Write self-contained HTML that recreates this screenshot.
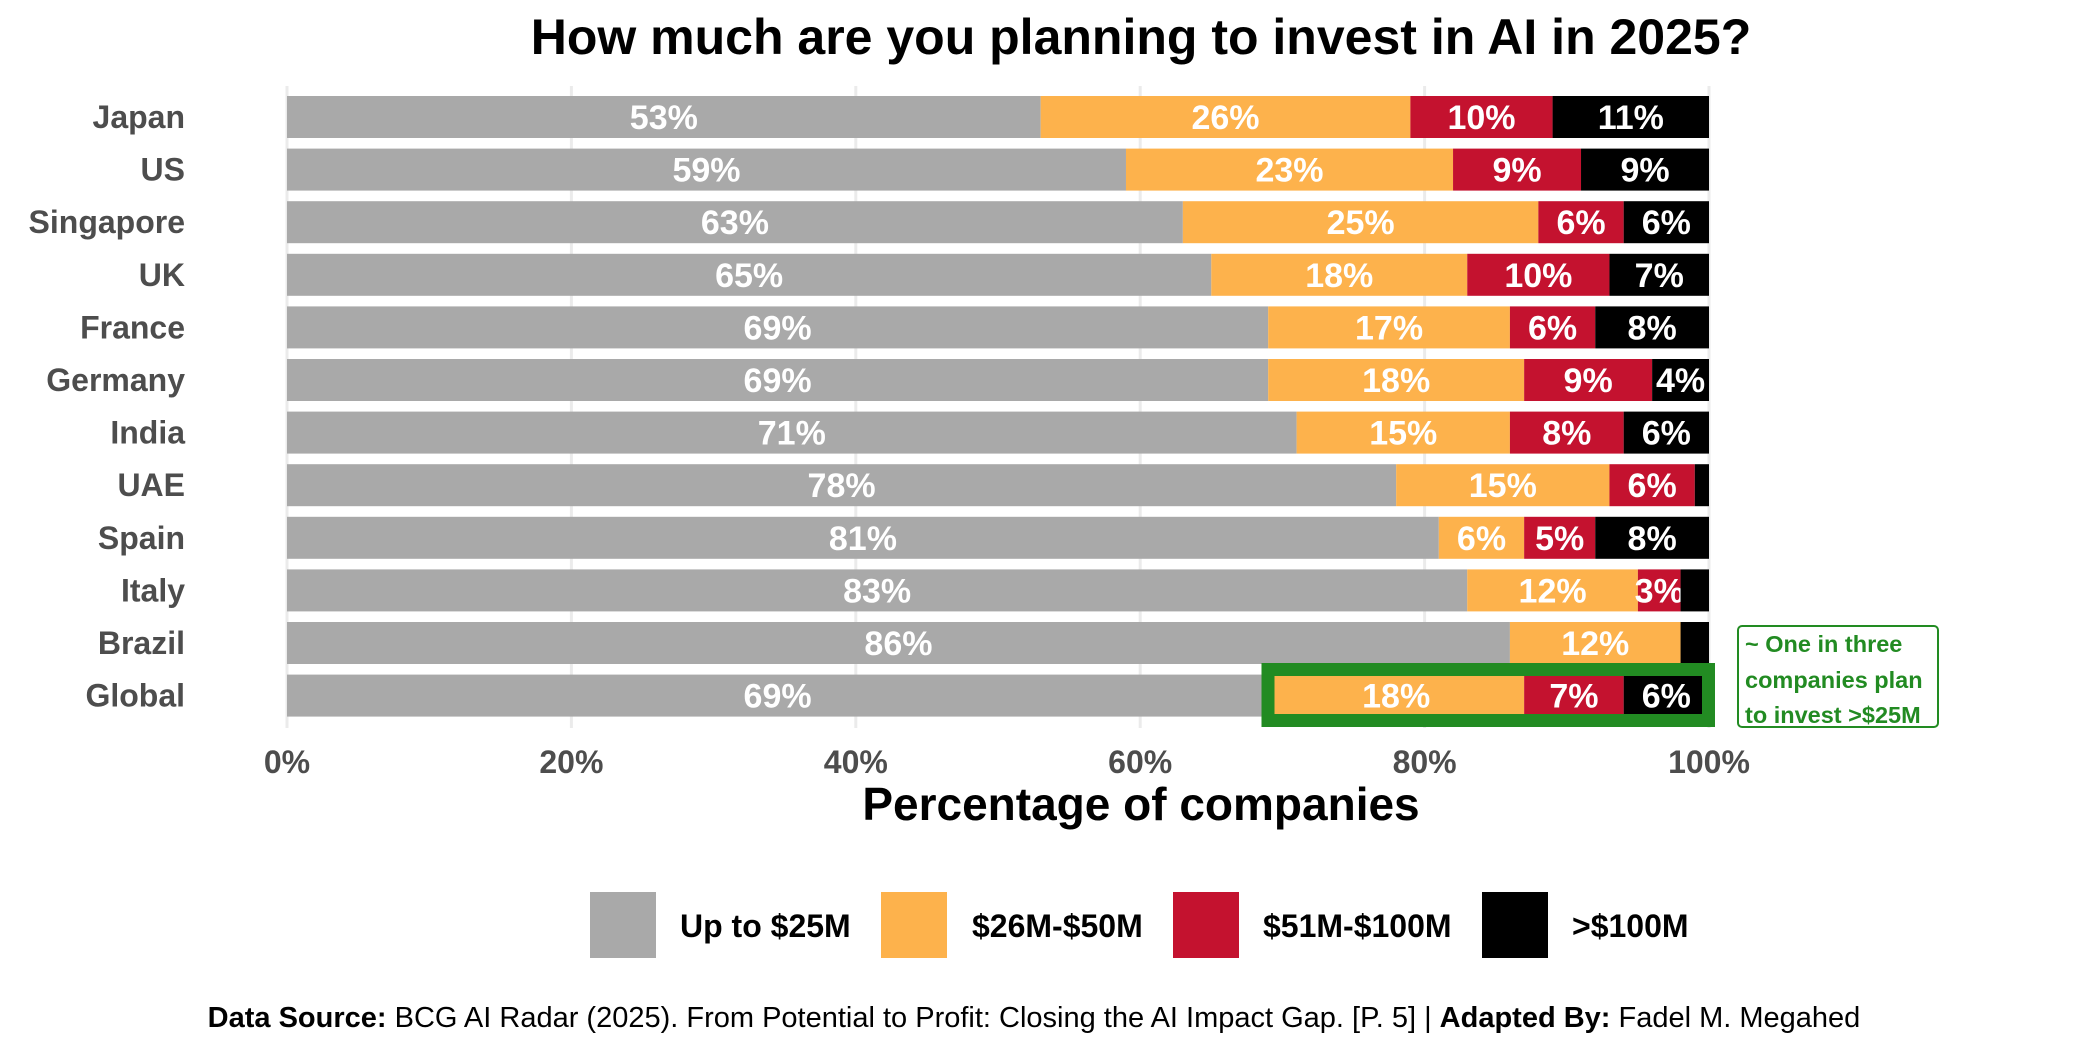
<!DOCTYPE html>
<html><head><meta charset="utf-8"><style>
html,body{margin:0;padding:0;background:#fff;}
svg{display:block;font-family:"Liberation Sans",sans-serif;}
</style></head><body>
<svg id="chart" width="2100" height="1050" viewBox="0 0 2100 1050">
<text x="1141" y="54" text-anchor="middle" font-size="50" font-weight="bold" fill="#000">How much are you planning to invest in AI in 2025?</text>
<g id="grid"></g><g id="bars"></g><g id="labels"></g>
<rect x="1268" y="669.5" width="440.5" height="51" fill="none" stroke="#228B22" stroke-width="13"/>
<rect x="1738" y="626" width="200" height="101" rx="4" fill="#fff" stroke="#228B22" stroke-width="2"/>
<g font-size="23.5" font-weight="bold" fill="#228B22">
<text x="1745" y="652">~ One in three</text>
<text x="1745" y="688">companies plan</text>
<text x="1745" y="723">to invest &gt;$25M</text>
</g>
<g id="ticks"></g>
<text x="1141" y="820" text-anchor="middle" font-size="46" font-weight="bold" fill="#000">Percentage of companies</text>
<g id="legend"></g>
<text x="1034" y="1027" text-anchor="middle" font-size="29" fill="#000"><tspan font-weight="bold">Data Source:</tspan> BCG AI Radar (2025). From Potential to Profit: Closing the AI Impact Gap. [P. 5] | <tspan font-weight="bold">Adapted By:</tspan> Fadel M. Megahed</text>
</svg>
<script>
const countries = ["Japan","US","Singapore","UK","France","Germany","India","UAE","Spain","Italy","Brazil","Global"];
const upTo25 = [53,59,63,65,69,69,71,78,81,83,86,69];
const m26to50 = [26,23,25,18,17,18,15,15,6,12,12,18];
const m51to100 = [10,9,6,10,6,9,8,6,5,3,0,7];
const over100 = [11,9,6,7,8,4,6,1,8,2,2,6];
const tickValues = [0,20,40,60,80,100];
const tickLabels = ["0%","20%","40%","60%","80%","100%"];
const seriesNames = ["Up to $25M","$26M-$50M","$51M-$100M",">$100M"];
const seriesColors = ["#A9A9A9","#FDB24C","#C4122F","#000000"];

const NS="http://www.w3.org/2000/svg";
const X0=287, X1=1709;
const xs=v=>X0+(X1-X0)*v/100;
const yc=i=>117+i*52.6;
const BH=42;
function mk(tag,attrs,parent){const e=document.createElementNS(NS,tag);for(const k in attrs)e.setAttribute(k,attrs[k]);parent.appendChild(e);return e;}
const grid=document.getElementById('grid'),bars=document.getElementById('bars'),labels=document.getElementById('labels'),ticks=document.getElementById('ticks'),legend=document.getElementById('legend');
tickValues.forEach((t,i)=>{
  const g=mk('line',{x1:xs(t),x2:xs(t),y1:86,y2:728,stroke:'#ebebeb','stroke-width':3},grid);
  
  
  const tx=mk('text',{x:xs(t),y:773,'text-anchor':'middle','font-size':32,'font-weight':'bold',fill:'#4d4d4d'},ticks);
  tx.textContent=tickLabels[i];
  
  
});
const series=[upTo25,m26to50,m51to100,over100];
countries.forEach((c,i)=>{
  const lab=mk('text',{x:185,y:yc(i)+11,'text-anchor':'end','font-size':32,'font-weight':'bold',fill:'#4d4d4d'},labels);
  lab.textContent=c;
  
  
  let cum=0;
  series.forEach((s,j)=>{
    const v=s[i]; if(v<=0)return;
    const r=mk('rect',{x:xs(cum),y:yc(i)-BH/2,width:xs(cum+v)-xs(cum),height:BH,fill:seriesColors[j]},bars);
    
    
    if(v>=3){
      const t=mk('text',{x:(xs(cum)+xs(cum+v))/2,y:yc(i)+12,'text-anchor':'middle','font-size':34,'font-weight':'bold',fill:'#fff'},bars);
      t.textContent=v+'%';
      
      
    }
    cum+=v;
  });
});
const lx=[590,881,1173,1482], tx=[680,972,1263,1572];
seriesNames.forEach((n,i)=>{
  const r=mk('rect',{x:lx[i],y:892,width:66,height:66,fill:seriesColors[i]},legend);
  
  
  const t=mk('text',{x:tx[i],y:937,'font-size':32,'font-weight':'bold',fill:'#000'},legend);
  t.textContent=n;
  
  
});
</script>
</body></html>
